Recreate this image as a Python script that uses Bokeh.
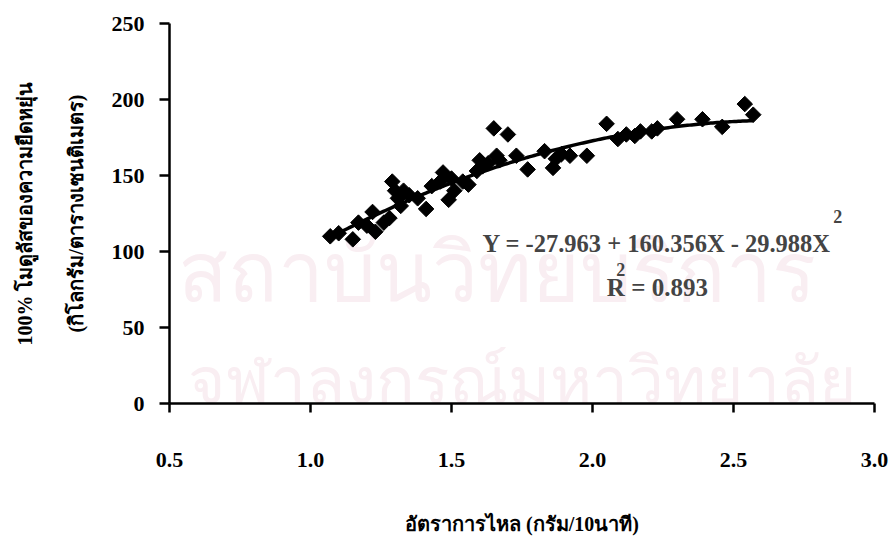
import numpy as np
from bokeh.plotting import figure
from bokeh.models import (Range1d, FixedTicker, LinearAxis, Label, ColumnDataSource,
                          NumeralTickFormatter)
from bokeh.embed import file_html
from bokeh.resources import INLINE

# Melt flow rate (g/10 min) and 100% modulus (kg/cm^2)
flow_rate = [1.07, 1.10, 1.15, 1.17, 1.20, 1.22, 1.23, 1.26, 1.28, 1.29,
             1.30, 1.31, 1.32, 1.33, 1.35, 1.38, 1.41, 1.43, 1.46, 1.47,
             1.49, 1.50, 1.51, 1.54, 1.56, 1.59, 1.60, 1.61, 1.63, 1.65,
             1.66, 1.67, 1.70, 1.73, 1.77, 1.83, 1.86, 1.87, 1.89, 1.92,
             1.98, 2.05, 2.09, 2.12, 2.15, 2.17, 2.21, 2.23, 2.30, 2.39,
             2.46, 2.54, 2.57]
modulus = [110, 112, 108, 119, 117, 126, 113, 119, 122, 146,
           140, 135, 130, 140, 137, 135, 128, 143, 146, 152,
           134, 148, 140, 146, 144, 153, 160, 156, 158, 181,
           163, 160, 177, 163, 154, 166, 155, 161, 164, 163,
           163, 184, 174, 177, 176, 179, 179, 181, 187, 187,
           182, 197, 190]

# Quadratic fit: Y = c0 + c1*X + c2*X^2
fit_coef = [-27.963, 160.356, -29.988]
r_squared = 0.893
fit_x_span = [1.07, 2.57]

x_ticks = [0.5, 1.0, 1.5, 2.0, 2.5, 3.0]
y_ticks = [0, 50, 100, 150, 200, 250]

x_title = "อัตราการไหล (กรัม/10นาที)"
y_title_outer = "100% โมดูลัสของความยืดหยุ่น"
y_title_inner = "(กิโลกรัม/ตารางเซนติเมตร)"
watermark_lines = ["สถาบันวิทยบริการ", "จุฬาลงกรณ์มหาวิทยาลัย"]

SERIF = "Liberation Serif"

p = figure(width=892, height=539, output_backend="svg", toolbar_location=None,
           x_range=Range1d(0.5, 3.0), y_range=Range1d(0, 250),
           min_border_left=169, min_border_right=18, min_border_top=23,
           min_border_bottom=136, x_axis_type=None, y_axis_type=None)
p.outline_line_color = None
p.xgrid.visible = False
p.ygrid.visible = False
p.background_fill_color = "white"
p.border_fill_color = "white"

# faint background lettering, kept beneath the data
for txt, xx, yy, fs in zip(watermark_lines, [1.66, 1.75], [86, 15], ["82px", "64px"]):
    p.add_layout(Label(x=xx, y=yy, text=txt, text_align="center",
                       text_baseline="alphabetic", text_font_size=fs,
                       text_color="#f9eef2", level="underlay"))


def style_axis(ax, label_px):
    ax.axis_line_width = 2.5
    ax.axis_line_color = "black"
    ax.major_tick_line_width = 2.5
    ax.major_tick_in = 0
    ax.minor_tick_line_color = None
    ax.major_label_text_font = SERIF
    ax.major_label_text_font_style = "bold"
    ax.major_label_text_font_size = "22px"
    ax.major_label_text_color = "black"
    ax.axis_label_text_font = SERIF
    ax.axis_label_text_font_style = "bold"
    ax.axis_label_text_font_size = label_px
    ax.axis_label_text_color = "black"


xaxis = LinearAxis(ticker=FixedTicker(ticks=x_ticks), axis_label=x_title,
                   formatter=NumeralTickFormatter(format="0.0"))
style_axis(xaxis, "20px")
xaxis.major_tick_out = 9
xaxis.major_label_standoff = 40
xaxis.axis_label_standoff = 43
p.add_layout(xaxis, "below")

yaxis = LinearAxis(ticker=FixedTicker(ticks=y_ticks), axis_label=y_title_inner)
style_axis(yaxis, "20px")
yaxis.major_tick_out = 10
yaxis.major_label_standoff = 15
yaxis.axis_label_standoff = 22
p.add_layout(yaxis, "left")

# outer line of the y title, carried by a bare axis
yaxis2 = LinearAxis(ticker=FixedTicker(ticks=[]), axis_label=y_title_outer)
style_axis(yaxis2, "20px")
yaxis2.axis_line_color = None
yaxis2.major_tick_line_color = None
yaxis2.major_tick_out = 0
yaxis2.major_label_standoff = 0
yaxis2.major_label_text_font_size = "0px"
yaxis2.axis_label_standoff = 26
p.add_layout(yaxis2, "left")

# fitted curve
fx = np.linspace(fit_x_span[0], fit_x_span[1], 200)
fy = fit_coef[0] + fit_coef[1] * fx + fit_coef[2] * fx ** 2
p.line(fx, fy, line_color="black", line_width=3.5)

src = ColumnDataSource(dict(x=flow_rate, y=modulus))
p.scatter("x", "y", source=src, marker="square", size=11, angle=np.pi / 4,
          fill_color="black", line_color="black", line_width=1)

eq_text = "Y = %.3f + %.3fX - %.3fX" % (fit_coef[0], fit_coef[1], abs(fit_coef[2]))
p.add_layout(Label(x=1.61, y=105.5, text=eq_text, text_baseline="middle",
                   text_font=SERIF, text_font_style="bold", text_font_size="24.5px"))
p.add_layout(Label(x=2.87, y=123, text="2", text_align="center", text_baseline="middle",
                   text_font=SERIF, text_font_style="bold", text_font_size="18px"))
p.add_layout(Label(x=2.10, y=88, text="2", text_align="center", text_baseline="middle",
                   text_font=SERIF, text_font_style="bold", text_font_size="18px"))
p.add_layout(Label(x=2.23, y=76, text="R = %.3f" % r_squared, text_align="center",
                   text_baseline="middle", text_font=SERIF, text_font_style="bold",
                   text_font_size="25px"))

open("out.html", "w").write(file_html(p, INLINE))
